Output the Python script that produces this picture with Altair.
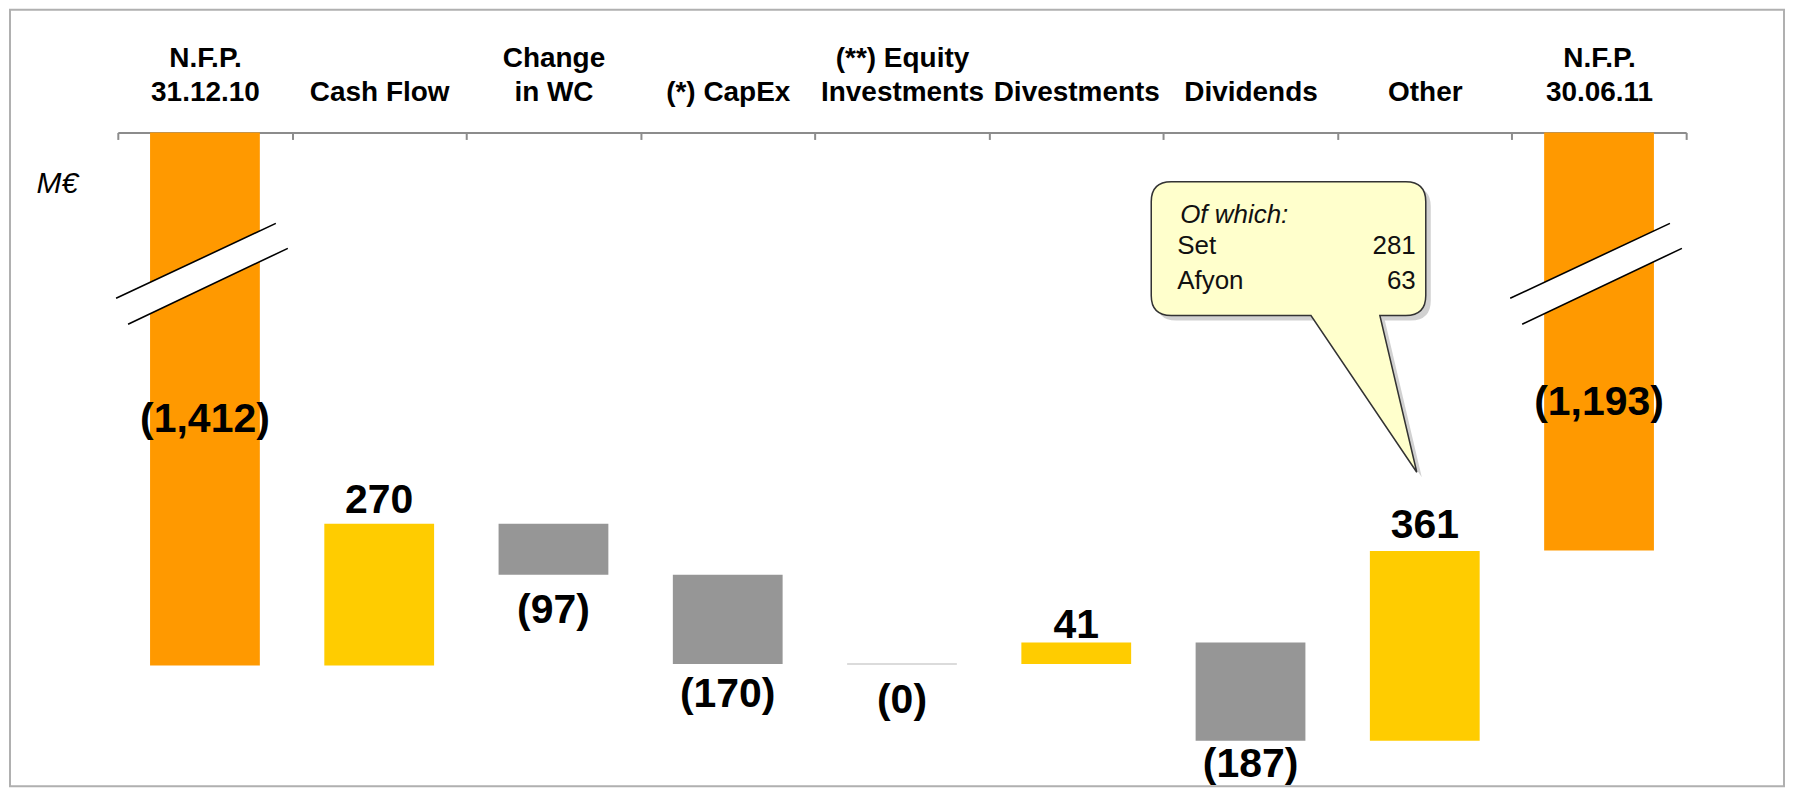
import altair as alt
import pandas as pd

# ---------------- data ----------------
categories = ["N.F.P.\n31.12.10", "Cash Flow", "Change\nin WC", "(*) CapEx",
              "(**) Equity\nInvestments", "Divestments", "Dividends", "Other",
              "N.F.P.\n30.06.11"]
values = [-1412, 270, -97, -170, 0, 41, -187, 361, -1193]
kinds = ["total", "increase", "decrease", "decrease", "decrease",
         "increase", "decrease", "increase", "total"]

callout_title = "Of which:"
callout_items = ["Set", "Afyon"]
callout_values = [281, 63]

kind_domain = ["total", "increase", "decrease"]
kind_colors = ["#FF9900", "#FFCC00", "#969696"]

BREAK_AT = -666  # level (M€) where the axis break is drawn on the total bars

rows = []
running = 0
for cat, v, k in zip(categories, values, kinds):
    if k == "total":
        start, end = 0, v
        running = v
    else:
        start, end = running, running + v
        running = end
    neg = v < 0 or k == "decrease"
    label = f"({abs(v):,})" if neg else f"{v:,}"
    rows.append(dict(cat=cat, start=start, end=end, kind=k, label=label,
                     top=max(start, end), bottom=min(start, end)))
df = pd.DataFrame(rows)
break_df = df[df["kind"] == "total"][["cat"]].assign(brk=BREAK_AT)
anchor_df = df[df["cat"] == "Other"]

# ---------------- styling ----------------
FONT = "Liberation Sans"
W, H = 1777, 778
AXIS_Y = 123
# vertical pixel offset of each value label from the bar end it is anchored to
label_dy = [-234, -11, 48, 43, 49, -4, 36, -13, -136]

x_scale = alt.Scale(domain=categories, range=[108, 1679], paddingInner=0, paddingOuter=0)
y_scale = alt.Scale(domain=[-1642, -396.8], range=[H, AXIS_Y], clamp=True, nice=False, zero=False)

x_axis = alt.Axis(orient="bottom", offset=-(H - AXIS_Y), title=None, tickBand="extent",
                  tickSize=7, tickWidth=2, tickColor="#8c8c8c", domainColor="#8c8c8c",
                  domainWidth=2, labelPadding=-67, labelBaseline="bottom", labelAngle=0,
                  labelAlign="center", labelFont=FONT, labelFontSize=28,
                  labelFontWeight="bold", labelColor="black", labelLineHeight=34,
                  labelExpr="length(split(datum.label, '\\n')) > 1 ? split(datum.label, '\\n') : ['', datum.label]",
                  labelOverlap=False, labelLimit=400, grid=False)
y_axis = alt.Axis(title="M€", titleAngle=0, titleX=26, titleY=183, titleAlign="left",
                  titleBaseline="alphabetic", titleFont=FONT, titleFontSize=30,
                  titleFontStyle="italic", titleFontWeight="normal", titleColor="black",
                  labels=False, ticks=False, domain=False, grid=False)

X = alt.X("cat:N", scale=x_scale, axis=x_axis)


def Y(field):
    return alt.Y(field, type="quantitative", scale=y_scale, axis=y_axis)


base = alt.Chart(df)

bars = base.mark_bar(width={"band": 0.63}).encode(
    x=X,
    y=Y("start"),
    y2=alt.Y2("end"),
    color=alt.Color("kind:N", scale=alt.Scale(domain=kind_domain, range=kind_colors), legend=None),
    stroke=alt.condition("datum.start == datum.end", alt.value("#d0d0d0"), alt.value("transparent")),
    strokeWidth=alt.value(1.5),
)

lab_style = dict(font=FONT, fontSize=41, fontWeight="bold", color="black", align="center",
                 baseline="alphabetic")
value_labels = []
for cat, k, dy in zip(categories, kinds, label_dy):
    anchor = "top" if k == "increase" else "bottom"
    value_labels.append(
        base.transform_filter(alt.datum.cat == cat).mark_text(dy=dy, **lab_style).encode(
            x=X, y=Y(anchor), text="label:N"))

BREAK_FILL = "M -0.89 0.245 L 0.71 -0.505 L 0.83 -0.255 L -0.77 0.505 Z"
BREAK_LINES = "M -0.89 0.245 L 0.71 -0.505 M -0.77 0.505 L 0.83 -0.255"
brk = alt.Chart(break_df)
break_white = brk.mark_point(shape=BREAK_FILL, size=40000, filled=True, fill="white",
                             opacity=1, strokeWidth=0).encode(x=X, y=Y("brk"))
break_lines = brk.mark_point(shape=BREAK_LINES, size=40000, filled=False, stroke="black",
                             strokeWidth=1.6, opacity=1).encode(x=X, y=Y("brk"))

CALLOUT = ("M -2.54 -3.70 L -0.19 -3.70 Q 0.01 -3.70 0.01 -3.50 L 0.01 -2.56 "
           "Q 0.01 -2.36 -0.19 -2.36 L -0.45 -2.36 L -0.08 -0.79 L -1.14 -2.36 "
           "L -2.54 -2.36 Q -2.74 -2.36 -2.74 -2.56 L -2.74 -3.50 Q -2.74 -3.70 -2.54 -3.70 Z")
anc = alt.Chart(anchor_df)
callout_shadow = anc.mark_point(shape=CALLOUT, size=40000, filled=True, fill="#9a9a9a",
                                opacity=0.45, strokeWidth=0, xOffset=5, yOffset=5).encode(
    x=X, y=Y("top"))
callout_box = anc.mark_point(shape=CALLOUT, size=40000, filled=True, fill="#FFFFCC",
                             stroke="#333333", strokeWidth=1.5, opacity=1).encode(
    x=X, y=Y("top"))
ct_style = dict(font=FONT, fontSize=26, color="#111111", baseline="alphabetic", lineHeight=35)
callout_t = anc.mark_text(dx=-245, dy=-329, align="left", fontStyle="italic", **ct_style).encode(
    x=X, y=Y("top"), text=alt.value(callout_title))
callout_names = anc.mark_text(dx=-248, dy=-298, align="left", **ct_style).encode(
    x=X, y=Y("top"), text=alt.value(callout_items))
callout_nums = anc.mark_text(dx=-9, dy=-298, align="right", **ct_style).encode(
    x=X, y=Y("top"), text=alt.value([str(v) for v in callout_values]))

chart = alt.layer(
    bars, break_white, break_lines, *value_labels,
    callout_shadow, callout_box, callout_t, callout_names, callout_nums,
).properties(
    width=W, height=H,
    padding={"left": 2, "top": 1, "right": 4, "bottom": 2},
    autosize="none",
    background="white",
).configure_view(stroke="#b0b0b0", strokeWidth=2)

chart.save("out.html", embed_options={"renderer": "svg", "actions": False})
